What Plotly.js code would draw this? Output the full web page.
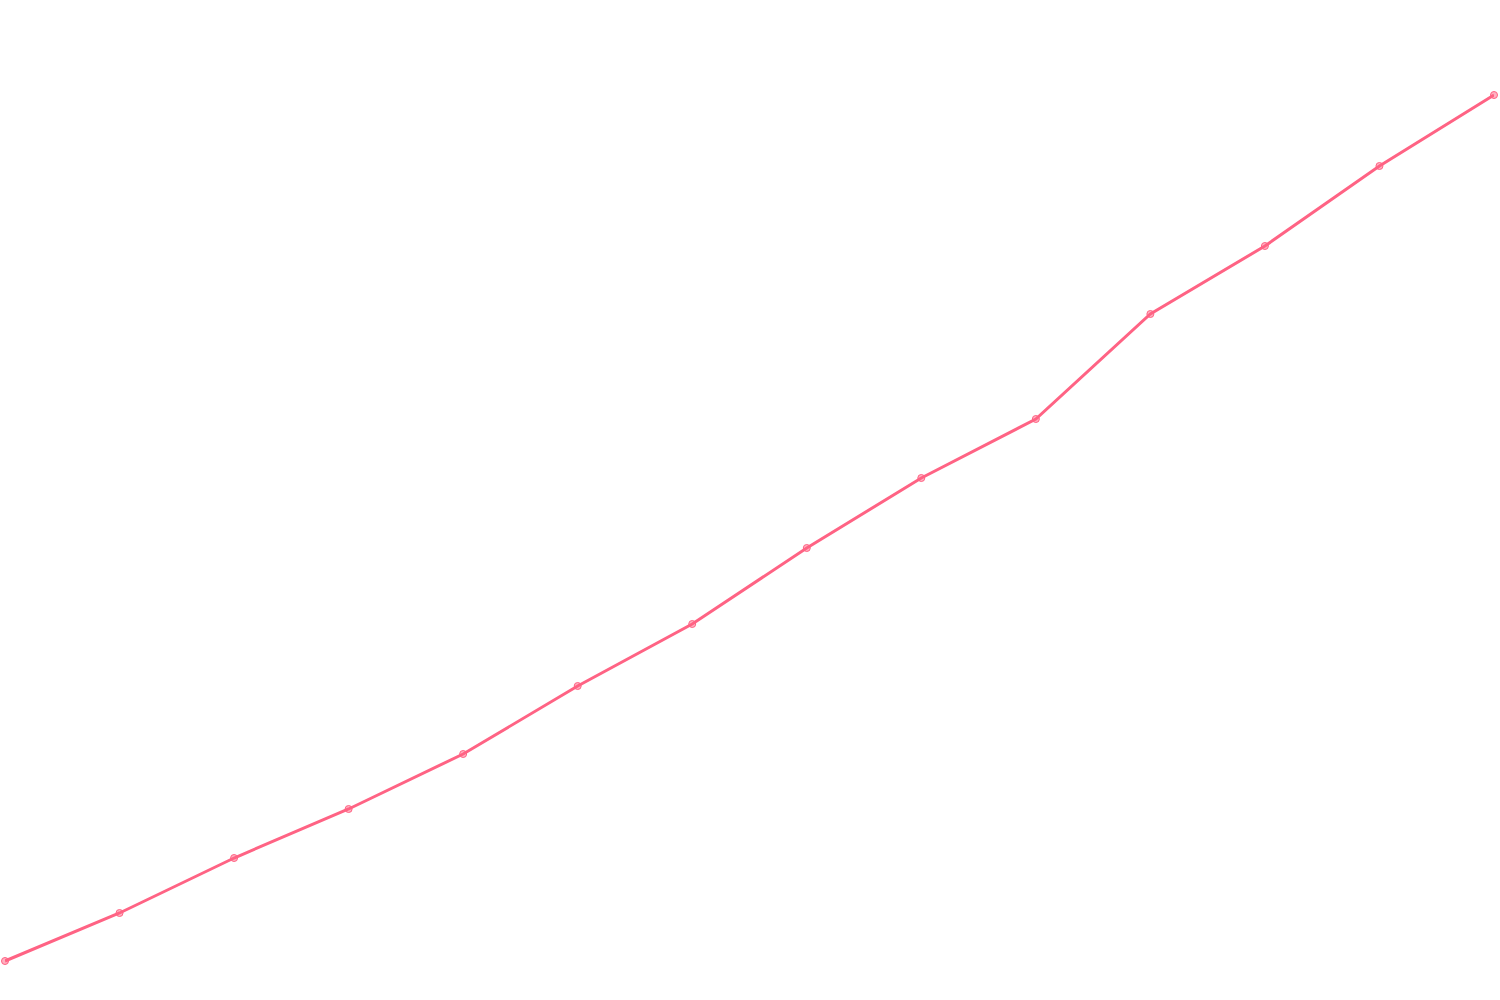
<!DOCTYPE html>
<html>
<head>
<meta charset="utf-8">
<script src="https://cdn.plot.ly/plotly-3.0.1.min.js"></script>
<style>
  html, body { margin: 0; padding: 0; background: #ffffff; }
  #myDiv { width: 1500px; height: 1000px; }
</style>
</head>
<body>
<div id="myDiv"></div>
<script>
// values (no axes shown, scale 0-1000)
var steps = [0, 1, 2, 3, 4, 5, 6, 7, 8, 9, 10, 11, 12, 13];
var values = [40, 88, 143, 192, 247, 315, 377, 453, 523, 582, 687, 755, 835, 906];

var lineColor = 'rgb(255, 99, 132)';

var trace = {
  x: steps,
  y: values,
  type: 'scatter',
  mode: 'lines+markers',
  line: { color: lineColor, width: 3 },
  marker: {
    size: 7,
    color: 'rgba(255, 99, 132, 0.5)',
    line: { color: lineColor, width: 1 },
  },
  cliponaxis: false,
  hoverinfo: 'none',
};

var layout = {
  width: 1500,
  height: 1000,
  margin: { l: 5, r: 6, t: 0, b: 0 },
  paper_bgcolor: '#ffffff',
  plot_bgcolor: '#ffffff',
  showlegend: false,
  xaxis: { range: [0, 13], visible: false, fixedrange: true },
  yaxis: { range: [1, 1001], visible: false, fixedrange: true },
};

Plotly.newPlot('myDiv', [trace], layout, { displayModeBar: false, staticPlot: true });
</script>
</body>
</html>
